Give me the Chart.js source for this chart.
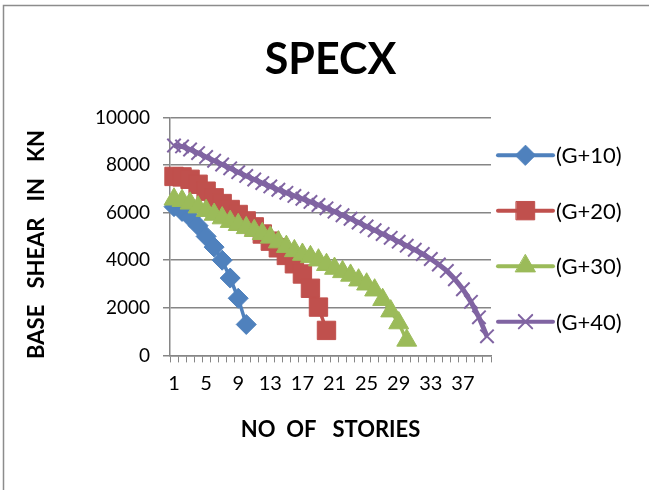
<!DOCTYPE html>
<html>
<head>
<meta charset="utf-8">
<title>SPECX</title>
<script src="https://cdn.jsdelivr.net/npm/chart.js@4.4.1/dist/chart.umd.min.js"></script>
<style>
  html, body { margin: 0; padding: 0; background: #ffffff; }
  canvas { display: block; }
</style>
</head>
<body>
<canvas id="chart" width="649" height="490"></canvas>
<script>
// Storey numbers along the category axis
const stories = ['1','2','3','4','5','6','7','8','9','10',
                 '11','12','13','14','15','16','17','18','19','20',
                 '21','22','23','24','25','26','27','28','29','30',
                 '31','32','33','34','35','36','37','38','39','40'];

// Category labels that are printed under the axis
const xTickLabels = ['1','5','9','13','17','21','25','29','33','37'];

// Value axis ticks
const yTicks = [0, 2000, 4000, 6000, 8000, 10000];

// Chart heading and series names
const chartTitle = 'SPECX';
const seriesNames = ['(G+10)', '(G+20)', '(G+30)', '(G+40)'];

// Base shear (kN) per storey for each building height
const shearG10 = [6250, 6050, 5800, 5450, 5000, 4550, 4000, 3250, 2400, 1300];

const shearG20 = [7520, 7500, 7400, 7190, 6900, 6620, 6380, 6130, 5920, 5650,
                  5400, 5100, 4800, 4520, 4200, 3850, 3420, 2820, 2030, 1050];

const shearG30 = [6560, 6500, 6390, 6230, 6080, 5920, 5770, 5620, 5490, 5360,
                  5240, 5110, 4960, 4760, 4570, 4390, 4240, 4140, 4000, 3810,
                  3650, 3510, 3360, 3160, 2990, 2740, 2340, 1860, 1360, 630];

const shearG40 = [8820, 8780, 8650, 8500, 8340, 8180, 8020, 7860, 7700, 7540,
                  7390, 7240, 7100, 6960, 6830, 6700, 6580, 6450, 6320, 6180,
                  6040, 5890, 5740, 5580, 5420, 5260, 5100, 4940, 4780, 4610,
                  4440, 4260, 4050, 3820, 3550, 3200, 2780, 2250, 1600, 800];

const FONT = 'Lato, "Open Sans", "DejaVu Sans", sans-serif';
const GRID = '#868686';

Chart.defaults.font.family = FONT;
Chart.defaults.color = '#000000';

function series(label, data, color, style, radius, lineWidth, markerBorder, order) {
  return {
    label: label,
    data: data,
    borderColor: color,
    backgroundColor: color,
    borderWidth: lineWidth,
    pointStyle: style,
    pointRadius: radius,
    pointHoverRadius: radius,
    pointBackgroundColor: color,
    pointBorderColor: color,
    pointBorderWidth: markerBorder,
    tension: 0,
    fill: false,
    clip: false,
    order: order
  };
}

// Heading centred over the plot area
const heading = {
  id: 'heading',
  afterDraw(chart) {
    const ctx = chart.ctx;
    const area = chart.chartArea;
    ctx.save();
    ctx.fillStyle = '#000000';
    ctx.font = 'bold 43px ' + FONT;
    ctx.textAlign = 'center';
    ctx.textBaseline = 'middle';
    ctx.fillText(chartTitle, (area.left + area.right) / 2, 60);
    ctx.restore();
  }
};

// Right-hand legend: a short line with the series marker, then its name
const sideLegend = {
  id: 'sideLegend',
  afterDraw(chart) {
    const ctx = chart.ctx;
    const area = chart.chartArea;
    const sets = chart.data.datasets;
    const gap = 55.5;
    const mid = (area.top + area.bottom) / 2 + 2;
    sets.forEach((ds, i) => {
      const y = mid + (i - (sets.length - 1) / 2) * gap;
      const x0 = area.right + 7;
      const x1 = x0 + 55;
      ctx.save();
      ctx.strokeStyle = ds.borderColor;
      ctx.lineWidth = 4;
      ctx.lineCap = 'round';
      ctx.beginPath();
      ctx.moveTo(x0, y);
      ctx.lineTo(x1, y);
      ctx.stroke();
      ctx.fillStyle = ds.pointBackgroundColor;
      ctx.strokeStyle = ds.pointBorderColor;
      ctx.lineWidth = ds.pointBorderWidth;
      Chart.helpers.drawPoint(ctx, {
        pointStyle: ds.pointStyle,
        radius: ds.pointRadius,
        borderWidth: ds.pointBorderWidth,
        rotation: 0
      }, (x0 + x1) / 2, y);
      ctx.fillStyle = '#000000';
      ctx.font = '22px ' + FONT;
      ctx.textAlign = 'left';
      ctx.textBaseline = 'middle';
      ctx.fillText(ds.label, x1 + 3, y + 1);
      ctx.restore();
    });
  }
};

// White page with a thin frame along the left and top edges
const frame = {
  id: 'frame',
  beforeDraw(chart) {
    const ctx = chart.ctx;
    ctx.save();
    ctx.fillStyle = '#ffffff';
    ctx.fillRect(0, 0, chart.width, chart.height);
    ctx.restore();
  },
  afterDraw(chart) {
    const ctx = chart.ctx;
    ctx.save();
    ctx.strokeStyle = '#8c8c8c';
    ctx.lineWidth = 1.5;
    ctx.beginPath();
    ctx.moveTo(3.5, chart.height);
    ctx.lineTo(3.5, 5.5);
    ctx.lineTo(chart.width, 5.5);
    ctx.stroke();
    ctx.restore();
  }
};

new Chart(document.getElementById('chart'), {
  type: 'line',
  data: {
    labels: stories,
    datasets: [
      series(seriesNames[0], shearG10, '#4F81BD', 'rectRot', 10, 3.5, 1, 4),
      series(seriesNames[1], shearG20, '#C0504D', 'rect', 13, 3.5, 1, 3),
      series(seriesNames[2], shearG30, '#9BBB59', 'triangle', 11.5, 3.5, 1, 2),
      series(seriesNames[3], shearG40, '#8064A2', 'crossRot', 9.5, 5, 2, 1)
    ]
  },
  options: {
    responsive: false,
    animation: false,
    devicePixelRatio: 1,
    layout: { padding: { left: 20, right: 158, top: 117.4, bottom: 43 } },
    plugins: {
      legend: { display: false },
      tooltip: { enabled: false },
      title: { display: false }
    },
    scales: {
      x: {
        type: 'category',
        offset: true,
        afterFit(scale) { scale.height = 91.6; },
        grid: {
          offset: true,
          drawOnChartArea: false,
          drawTicks: true,
          tickLength: 7,
          color: GRID,
          tickColor: GRID,
          lineWidth: 1
        },
        border: { display: true, color: GRID, width: 1.5 },
        ticks: {
          autoSkip: false,
          maxRotation: 0,
          minRotation: 0,
          padding: 9,
          color: '#000000',
          font: { size: 20 },
          callback(value) {
            const lab = this.getLabelForValue(value);
            return xTickLabels.includes(lab) ? lab : '';
          }
        },
        title: {
          display: true,
          text: 'NO  OF   STORIES',
          color: '#000000',
          font: { size: 22, weight: 'bold' },
          padding: { top: 4, bottom: 4 }
        }
      },
      y: {
        min: yTicks[0],
        max: yTicks[yTicks.length - 1],
        afterFit(scale) { scale.width = 150; },
        afterBuildTicks(scale) { scale.ticks = yTicks.map(v => ({ value: v })); },
        grid: {
          drawTicks: true,
          tickLength: 7,
          color: GRID,
          tickColor: GRID,
          lineWidth: 1.5
        },
        border: { display: true, color: GRID, width: 1.5 },
        ticks: {
          padding: 13,
          color: '#000000',
          font: { size: 19 },
          callback(value) { return String(value); }
        },
        title: {
          display: true,
          text: 'BASE   SHEAR   IN   KN   ',
          color: '#000000',
          font: { size: 22, weight: 'bold' },
          padding: { top: 4, bottom: 4 }
        }
      }
    }
  },
  plugins: [frame, heading, sideLegend]
});
</script>
</body>
</html>
